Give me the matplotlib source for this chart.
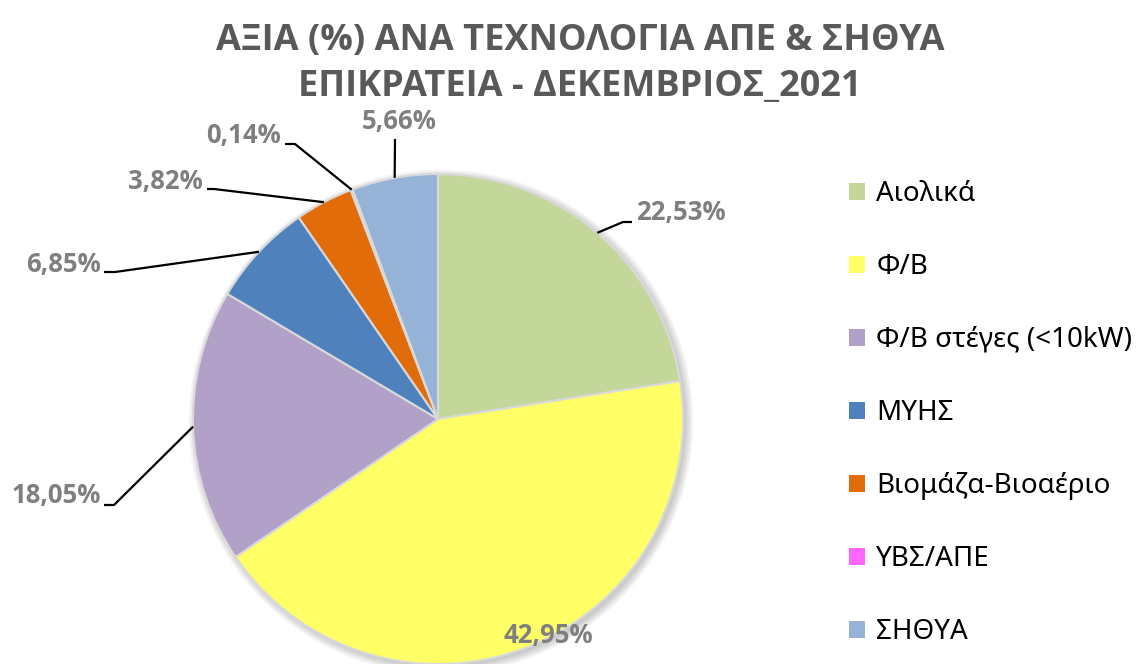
import numpy as np
import matplotlib
matplotlib.use("Agg")
import matplotlib.pyplot as plt
from matplotlib.patches import Circle

# data
categories = ["Αιολικά", "Φ/Β", "Φ/Β στέγες (<10kW)", "ΜΥΗΣ",
              "Βιομάζα-Βιοαέριο", "ΥΒΣ/ΑΠΕ", "ΣΗΘΥΑ"]
values = [22.53, 42.95, 18.05, 6.85, 3.82, 0.14, 5.66]
colors = ["#C4D79B", "#FFFF66", "#B1A0C7", "#4F81BD",
          "#E26B0A", "#FF66FF", "#95B3D7"]
title_lines = ["ΑΞΙΑ (%) ΑΝΑ ΤΕΧΝΟΛΟΓΙΑ ΑΠΕ & ΣΗΘΥΑ",
               "ΕΠΙΚΡΑΤΕΙΑ - ΔΕΚΕΜΒΡΙΟΣ_2021"]

# layout, in figure pixels (origin top-left)
W, H = 1141, 664
CX, CY, R = 438, 419, 245
# text x, text y, ha, elbow point, line end next to the text
label_layout = [
    (636, 212, "left", (623, 222), (632, 222)),
    (548, 636, "center", None, None),
    (101, 496, "right", (114, 505), (104, 505)),
    (101, 264, "right", (115, 272), (104, 272)),
    (203, 181, "right", (214, 189), (207, 189)),
    (281, 136, "right", (295, 144), (285, 144)),
    (399, 122, "center", (395, 139), (395, 139)),
]

FONT = ["Noto Sans", "DejaVu Sans"]
BOLD = ["Open Sans", "DejaVu Sans"]
plt.rcParams["font.family"] = FONT


def to_data(px, py):
    return (px - CX) / R, (CY - py) / R


fig = plt.figure(figsize=(W / 100, H / 100), dpi=100)
ax = fig.add_axes([0, 0, 1, 1])
x0, y1 = to_data(0, 0)
x1, y0 = to_data(W, H)
ax.axis("off")

# soft shadow behind the pie
for k in range(6):
    ax.add_patch(Circle((0.012, -0.012), 1.0 + 0.006 * k, color="#000000",
                        alpha=0.035, lw=0, zorder=0))

wedges, _ = ax.pie(values, colors=colors, startangle=90, counterclock=False,
                   radius=1.0, center=(0, 0),
                   wedgeprops=dict(edgecolor="#D9D9D9", linewidth=1.5))
ax.set_xlim(x0, x1)
ax.set_ylim(y0, y1)

# data labels with leader lines
fracs = np.array(values) / np.sum(values)
cum = np.cumsum(fracs) - fracs / 2
for val, c, (tx, ty, ha, elbow, end) in zip(values, cum, label_layout):
    ang = np.deg2rad(90 - 360 * c)
    axx, axy = np.cos(ang), np.sin(ang)
    txt = f"{val:.2f}%".replace(".", ",")
    px, py = to_data(tx, ty)
    ax.text(px, py, txt, ha=ha, va="center", fontsize=18.5, fontweight="bold",
            family=BOLD, color="#7F7F7F", zorder=5)
    if elbow is not None:
        ex, ey = to_data(*elbow)
        sx, sy = to_data(*end)
        ax.plot([axx, ex, sx], [axy, ey, sy], color="black", lw=1.6,
                solid_capstyle="butt", zorder=4)

# title
for line, base in zip(title_lines, [50, 96]):
    fig.text(580 / W, 1 - base / H, line, ha="center", va="baseline",
             fontsize=26, fontweight="bold", family=BOLD, color="#595959")

# legend
leg = ax.legend(wedges, categories, loc="upper left",
                bbox_to_anchor=(849 / W, 1 - 180 / H),
                bbox_transform=fig.transFigure, frameon=False,
                fontsize=20, handlelength=0.58, handleheight=0.58,
                handletextpad=0.4, labelspacing=1.62, borderpad=0,
                borderaxespad=0)
for h in leg.legend_handles:
    h.set_edgecolor("none")

fig.savefig("out.png", dpi=100)
